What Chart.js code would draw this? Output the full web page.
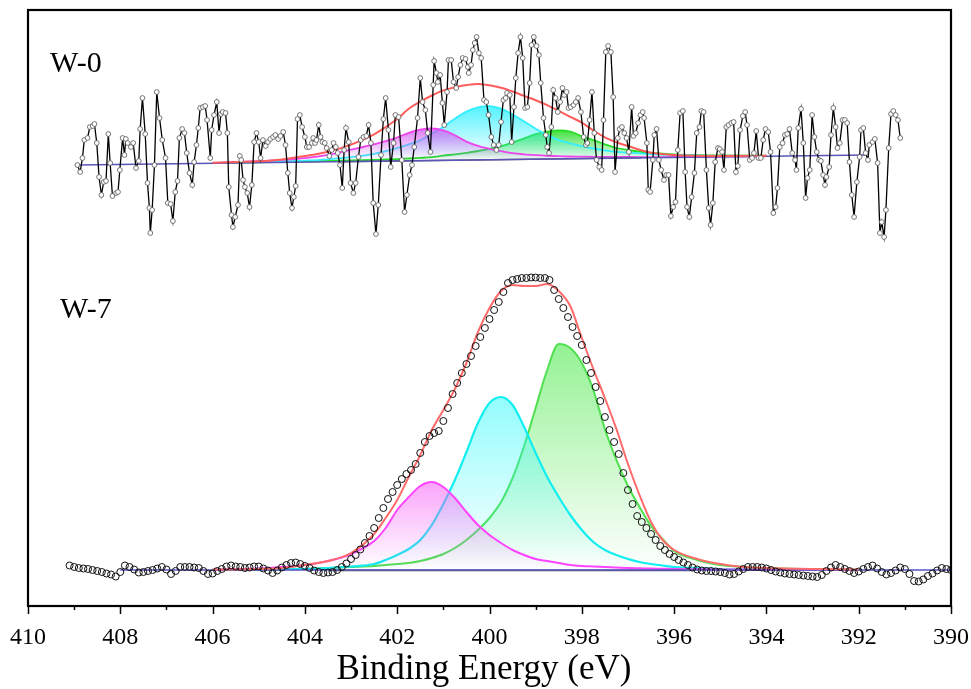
<!DOCTYPE html>
<html>
<head>
<meta charset="utf-8">
<script src="https://cdn.jsdelivr.net/npm/chart.js@4.4.0/dist/chart.umd.min.js"></script>
<style>
html,body{margin:0;padding:0;background:#fff;}
#wrap{width:971px;height:689px;}
</style>
</head>
<body>
<div id="wrap"><canvas id="c" width="971" height="689"></canvas></div>
<script>
// ---------- DATA (binding energy in eV, intensity in arbitrary units) ----------
const TICK_LABELS = [410, 408, 406, 404, 402, 400, 398, 396, 394, 392, 390];
const SAMPLE_LABELS = ["W-0", "W-7"];
const AXIS_TITLE = "Binding Energy (eV)";

// W-0 raw spectrum
const W0_E = [
408.93,408.87,408.82,408.78,408.71,408.66,408.60,408.56,408.51,408.46,
408.41,408.36,408.31,408.26,408.22,408.17,408.09,408.05,408.01,407.95,
407.91,407.88,407.84,407.77,407.72,407.66,407.60,407.57,407.52,407.46,
407.41,407.37,407.35,407.31,407.26,407.21,407.15,407.09,407.02,406.97,
406.91,406.86,406.81,406.76,406.72,406.66,406.61,406.56,406.50,406.44,
406.40,406.35,406.31,406.27,406.21,406.16,406.12,406.05,406.02,405.97,
405.91,405.86,405.82,405.78,405.72,405.68,405.65,405.59,405.56,405.51,
405.45,405.41,405.38,405.34,405.30,405.25,405.20,405.15,405.10,405.05,
405.00,404.96,404.91,404.85,404.80,404.75,404.69,404.64,404.58,404.53,
404.47,404.42,404.37,404.33,404.28,404.24,404.20,404.16,404.11,404.06,
404.00,403.96,403.91,403.85,403.82,403.78,403.75,403.70,403.66,403.62,
403.57,403.53,403.47,403.42,403.38,403.33,403.29,403.24,403.19,403.15,
403.11,403.05,403.01,402.95,402.90,402.84,402.79,402.73,402.67,402.62,
402.57,402.52,402.46,402.41,402.35,402.30,402.25,402.19,402.14,402.08,
402.04,401.97,401.90,401.84,401.79,401.73,401.68,401.63,401.56,401.50,
401.45,401.39,401.34,401.28,401.22,401.20,401.15,401.12,401.07,401.02,
400.98,400.92,400.89,400.83,400.78,400.72,400.68,400.63,400.58,400.52,
400.47,400.45,400.40,400.36,400.32,400.28,400.23,400.18,400.12,400.07,
400.02,399.96,399.91,399.85,399.80,399.75,399.70,399.65,399.62,399.56,
399.52,399.47,399.43,
399.38,399.33,399.28,399.23,399.18,399.13,399.09,399.04,398.98,398.93,
398.89,398.83,398.78,398.75,398.71,398.66,398.62,398.57,398.52,398.47,
398.42,398.38,398.33,398.29,398.24,398.18,398.13,398.08,398.02,397.96,
397.91,397.88,397.83,397.78,397.73,397.68,397.62,397.57,397.53,397.48,
397.43,397.37,397.32,397.28,397.22,397.18,397.13,397.08,397.03,396.98,
396.92,396.88,396.83,396.78,396.73,396.68,396.65,396.59,396.56,396.52,
396.46,396.43,396.38,396.33,396.28,396.22,396.17,396.12,396.07,396.02,
395.97,395.92,395.87,395.81,395.76,395.72,395.67,395.62,395.56,395.51,
395.45,395.41,395.36,395.30,395.25,395.21,395.16,395.11,395.05,395.01,
394.96,394.92,394.87,394.82,394.76,394.71,394.66,394.62,394.57,394.51,
394.46,394.42,394.36,394.31,394.27,394.22,394.17,394.12,394.07,394.02,
393.96,393.91,393.85,393.80,393.76,393.71,393.65,393.60,393.55,393.50,
393.44,393.38,393.35,393.31,393.25,393.20,393.15,393.11,393.06,393.01,
392.96,392.91,392.86,392.82,392.77,392.73,392.70,392.64,392.60,392.55,
392.50,392.46,392.41,392.35,392.30,392.25,392.20,392.15,392.10,392.04,
391.98,391.95,391.90,391.85,391.80,391.77,391.70,391.65,391.59,391.54,
391.50,391.45,391.41,391.35,391.30,391.25,391.20,391.15,391.10
];
const W0_I = [
441,434,448,466,468,479,480,482,463,429,
411,424,425,472,443,410,413,414,436,468,
451,467,463,459,463,438,445,477,508,472,
423,398,373,396,441,514,488,466,448,403,
402,385,414,425,468,477,473,453,433,421,
444,461,478,498,499,500,486,448,476,491,
504,473,492,494,493,473,419,391,379,389,
401,450,446,426,419,413,399,421,464,473,
464,448,466,460,464,467,469,471,467,470,
474,461,433,413,398,409,420,487,491,479,
469,459,459,463,468,463,466,481,469,464,
463,458,450,456,463,459,453,441,418,456,
478,464,423,413,423,449,466,469,470,481,
463,403,372,401,451,487,508,476,439,463,
491,489,446,394,411,431,441,459,488,528,
504,496,473,454,521,545,533,524,531,503,
481,514,546,546,524,518,529,541,548,547,
539,533,541,556,563,569,553,548,506,504,
491,469,461,456,461,484,506,508,513,511,
464,499,528,
553,569,548,498,499,523,561,569,560,551,
523,488,471,459,453,479,516,508,494,504,
518,511,514,498,499,501,504,508,494,469,
461,463,486,514,473,446,439,436,486,554,
560,554,509,434,468,477,479,473,468,454,
499,470,473,483,491,494,488,463,416,414,
446,471,477,446,436,426,431,431,390,399,
404,456,493,495,434,399,389,409,433,473,
479,495,494,436,398,381,403,444,458,457,
454,436,479,481,483,484,434,440,476,490,
494,481,446,448,453,475,448,448,466,477,
474,454,393,399,418,459,463,471,472,477,
453,446,436,478,497,463,408,428,436,491,
469,454,446,445,431,421,429,439,471,498,
479,458,463,486,486,483,444,411,389,424,
449,476,478,453,446,461,464,467,443,373,
384,369,396,458,492,495,491,486,468
];

// W-0 fitted components
const FIT0_E = [406,405,404.5,404,403.5,403,402.5,402.25,402,401.75,401.5,401.25,401,400.75,400.5,400.25,400,399.75,399.5,399.25,399,398.75,398.5,398.25,398,397.75,397.5,397.25,397,396.5,396,395.5,395,394];
const FIT0_ENV = [443.2,444.8,446.6,449.9,454.2,461.4,471.7,478.9,487.0,497.2,504.3,510.5,515.6,518.8,520.9,522.1,520.7,518.3,514.5,510.1,505.8,500.9,495.1,489.2,483.4,475.5,468.7,463.8,460.0,453.2,451.0,450.3,450.1,450.2];
const FIT0_MAG = [443.2,444.8,446.1,447.9,451.2,456.4,461.7,464.9,468.5,473.2,476.3,477.5,475.6,470.8,464.4,460.1,457.2,454.8,452.8,451.6,450.8,450.2,449.9,449.5,449.4,449.2,449.1,449.0,449.0,448.9,449.0,449.1,449.3,449.8];
const FIT0_CYAN = [443.0,444.0,444.6,445.4,446.7,448.8,452.2,454.9,458.0,461.7,465.8,472.5,479.1,487.3,494.4,498.6,499.9,497.3,491.5,484.6,477.3,470.9,466.1,462.7,459.9,457.5,455.7,454.2,453.3,451.9,451.0,450.5,450.2,450.2];
const FIT0_GREEN = [442.9,443.7,444.1,444.6,445.1,445.5,446.1,446.5,446.9,447.5,448.1,448.9,450.4,451.6,453.1,455.0,457.2,459.8,463.5,467.6,471.8,474.4,475.7,474.5,469.9,466.0,461.7,458.0,456.0,453.0,451.7,450.9,450.5,450.4];
const BG0_E = [408.93, 391.83];
const BG0_I = [441, 451];
const BASE0_E = [403.2, 396.7];
const BASE0_I = [444.3, 448.3];
const FILL0_LEVEL = 446;

// W-7 raw spectrum
const W7_E = [
409.1,409.0,408.9,408.8,408.7,408.6,408.5,408.4,408.3,408.2,
408.1,408.0,407.9,407.8,407.7,407.6,407.5,407.4,407.3,407.2,
407.1,407.0,406.9,406.8,406.7,406.6,406.5,406.4,406.3,406.2,
406.1,406.0,405.9,405.8,405.7,405.6,405.5,405.4,405.3,405.2,
405.1,405.0,404.9,404.8,404.7,404.6,404.5,404.4,404.3,404.2,
404.1,404.0,403.9,403.8,403.7,403.6,403.5,403.4,403.3,403.2,
403.1,403.0,402.9,402.8,402.7,402.6,402.5,402.4,402.3,402.2,
402.1,402.0,401.9,401.8,401.7,401.6,401.5,401.4,401.3,401.2,
401.1,401.0,400.9,400.8,400.7,400.6,400.5,400.4,400.3,400.2,
400.1,400.0,399.9,399.8,399.7,399.6,399.5,399.4,399.3,399.2,
399.1,399.0,398.9,398.8,398.7,398.6,398.5,398.4,398.3,398.2,
398.1,398.0,397.9,397.8,397.7,397.6,397.5,397.4,397.3,397.2,
397.1,397.0,396.9,396.8,396.7,396.6,396.5,396.4,396.3,396.2,
396.1,396.0,395.9,395.8,395.7,395.6,395.5,395.4,395.3,395.2,
395.1,395.0,394.9,394.8,394.7,394.6,394.5,394.4,394.3,394.2,
394.1,394.0,393.9,393.8,393.7,393.6,393.5,393.4,393.3,393.2,
393.1,393.0,392.9,392.8,392.7,392.6,392.5,392.4,392.3,392.2,
392.1,392.0,391.9,391.8,391.7,391.6,391.5,391.4,391.3,391.2,
391.1,391.0,390.9,390.8,390.7,390.6,390.5,390.4,390.3,390.2,
390.1,390.0
];
const W7_I = [
40.5,39,38,37.5,37,36,35,34,32.5,31.5,
29.5,34,40.5,39,36.5,33.5,34,35,36,37.5,
39,36.5,32,35,39,39,39,38.5,38,35,
32,32.5,35,37,39.5,40.5,39.5,39,38,38.5,
39.5,39.5,37.5,35.5,33,35.5,38.5,41,43,43.5,
42,40,38,35.5,34,33,33.5,34,36,39,
42.5,47,51,56.5,63,70,78,88,98,107,
114,121,127,132,136,142,153,164,170,173,
175,185,198,212,223,233,242,250,260,269,
278,287,296,304,314,323,326,327,328,328,
328.5,328.5,328,328,326,316,307,298,289,279,
270,261,246,233,219,205,189,176,164,152,
133,116,102,90,84,78,72,66,60,56,
52,49,46,43.5,41,38.5,36.5,35.5,35,35,
34.5,34,33,31.5,32,34.5,37,39,39,39,
38.5,37.5,36,34.5,33.5,32.5,32,31.5,31,30.5,
30,29.5,29,31,35,38.5,41,39,37,35,
33,34.5,37,39,40.5,37.5,34,31.5,33,35.5,
38.5,37,32,25,24.5,26.5,30,32.5,35.5,38,
37,36
];

// W-7 fitted components
const FIT7_E = [406,405,404.5,404,403.5,403,402.5,402.25,402,401.75,401.5,401.25,401,400.75,400.5,400.25,400,399.75,399.5,399.25,399,398.75,398.5,398.25,398,397.75,397.5,397.25,397,396.75,396.5,396.25,396,395.5,395,394.5,394,393,392];
const FIT7_ENV = [36.5,37,38,41,45,53,72,88,106,129,151,176,196,217,243,274,298,315,321,320,320,322,315,300,268,237,208,177,142,111,84,66,56,47,42,39,38,37,36.5];
const FIT7_MAG = [36.3,37.5,39,41,45,52,65,78,96,109,120,124,119,108,94,81,71,63,56,51,47,45,43,41,40,39.5,39,38.5,38,37.7,37.4,37.2,37,36.8,36.6,36.4,36.3,36.2,36.1];
const FIT7_CYAN = [36.3,36.5,36.8,37,38,39.5,42,46,51,57,66,81,102,126,154,183,203,209,201,179,153,129,109,91,76,64,56,51,47,44,42,40.5,39,38,37,36.7,36.5,36.2,36.1];
const FIT7_GREEN = [36.2,36.5,36.7,37,38,39,40,41,42,43,45,48,52,58,66,76,88,104,128,160,198,236,262,258,243,216,177,146,120,99,80,67,55,46,41,39,38,36.7,36.3];
const BG7_E = [408.0, 390.0];
const BG7_I = [36, 36];
const BASE7_E = [403.5, 395.6];
const BASE7_I = [35.6, 35.6];
const FILL7_LEVEL = 36;

// ---------- helpers ----------
const pts = (xs, ys) => xs.slice(0, Math.min(xs.length, ys.length)).map((x, i) => ({x: x, y: ys[i]}));
function gradFill(rgb, values, base, aTop, aBot) {
  const peak = Math.max.apply(null, values);
  return function(ctx) {
    const ch = ctx.chart;
    if (!ch.chartArea) return 'rgba(' + rgb + ',0.2)';
    const ys = ch.scales.y;
    const g = ch.ctx.createLinearGradient(0, ys.getPixelForValue(peak), 0, ys.getPixelForValue(base));
    g.addColorStop(0, 'rgba(' + rgb + ',' + aTop + ')');
    g.addColorStop(1, 'rgba(' + rgb + ',' + aBot + ')');
    return g;
  };
}
function fitLine(xs, ys, color, width, fillRgb, base, aTop) {
  const ds = {
    data: pts(xs, ys), borderColor: color, borderWidth: width,
    pointRadius: 0, cubicInterpolationMode: 'monotone', fill: false
  };
  if (fillRgb) {
    ds.fill = {value: base};
    ds.backgroundColor = gradFill(fillRgb, ys, base, aTop, 0.0);
  }
  return ds;
}
function straight(xs, ys, color, width) {
  return {data: pts(xs, ys), borderColor: color, borderWidth: width, pointRadius: 0, fill: false, tension: 0};
}

const SERIF = '"Liberation Serif", "Times New Roman", Times, serif';

const datasets = [
  // raw data (drawn on top)
  {data: pts(W0_E, W0_I), borderColor: '#000', borderWidth: 1.3, tension: 0, fill: false,
   pointRadius: 2.4, pointBackgroundColor: '#fff', pointBorderColor: '#555', pointBorderWidth: 0.8},
  {data: pts(W7_E, W7_I), showLine: false, fill: false,
   pointRadius: 3.5, pointBackgroundColor: 'rgba(255,255,255,0)', pointBorderColor: '#111', pointBorderWidth: 1},
  // envelopes
  fitLine(FIT0_E, FIT0_ENV, '#ff5c5c', 2, null),
  fitLine(FIT7_E, FIT7_ENV, '#ff6a6a', 2, null),
  // backgrounds and base lines
  straight(BG0_E, BG0_I, '#5b55b8', 1.6),
  straight(BG7_E, BG7_I, '#5b55c8', 1.6),
  straight(BASE0_E, BASE0_I, '#666', 1.6),
  straight(BASE7_E, BASE7_I, '#555', 1.8),
  // components W-0
  fitLine(FIT0_E, FIT0_MAG, '#ee44ee', 1.8, '210,80,240', FILL0_LEVEL, 0.75),
  fitLine(FIT0_E, FIT0_CYAN, '#33eeff', 1.8, '40,240,255', FILL0_LEVEL, 0.8),
  fitLine(FIT0_E, FIT0_GREEN, '#22dd22', 1.8, '30,220,30', FILL0_LEVEL, 0.85),
  // components W-7
  fitLine(FIT7_E, FIT7_MAG, '#ff44ff', 2, '245,90,245', FILL7_LEVEL, 0.55),
  fitLine(FIT7_E, FIT7_CYAN, '#11eef0', 2.2, '40,250,250', FILL7_LEVEL, 0.5),
  fitLine(FIT7_E, FIT7_GREEN, '#50e050', 2, '90,235,90', FILL7_LEVEL, 0.65)
];

const framePlugin = {
  id: 'frame',
  afterDraw(chart) {
    const {ctx, chartArea: a, scales} = chart;
    const xs = scales.x;
    ctx.save();
    // frame
    ctx.strokeStyle = '#000';
    ctx.lineWidth = 2.2;
    ctx.strokeRect(a.left, a.top, a.right - a.left, a.bottom - a.top);
    // major / minor tick marks
    ctx.lineWidth = 1.5;
    for (let v = TICK_LABELS[TICK_LABELS.length - 1]; v <= TICK_LABELS[0]; v += 1) {
      const px = Math.round(xs.getPixelForValue(v)) + 0.5;
      const len = (TICK_LABELS.indexOf(v) >= 0) ? 8 : 4;
      ctx.beginPath();
      ctx.moveTo(px, a.bottom);
      ctx.lineTo(px, a.bottom + len);
      ctx.stroke();
    }
    // sample labels
    ctx.fillStyle = '#000';
    ctx.font = '30px ' + SERIF;
    ctx.textAlign = 'left';
    ctx.textBaseline = 'alphabetic';
    ctx.fillText(SAMPLE_LABELS[0], 50, 72);
    ctx.fillText(SAMPLE_LABELS[1], 60, 318);
    // axis title
    ctx.font = '35px ' + SERIF;
    ctx.textAlign = 'center';
    ctx.textBaseline = 'alphabetic';
    ctx.fillText(AXIS_TITLE, 484, 679);
    ctx.restore();
  }
};

new Chart(document.getElementById('c'), {
  type: 'line',
  data: {datasets: datasets},
  options: {
    responsive: false,
    animation: false,
    devicePixelRatio: 1,
    layout: {padding: {left: 28, right: 20, top: 10, bottom: 0}},
    plugins: {legend: {display: false}, tooltip: {enabled: false}, title: {display: false}},
    scales: {
      x: {
        type: 'linear', reverse: true, min: 390, max: 410,
        afterFit: function(s) { s.height = 83; s.paddingLeft = 0; s.paddingRight = 0; },
        grid: {display: true, drawOnChartArea: false, drawTicks: false},
        border: {display: false},
        ticks: {
          stepSize: 2, autoSkip: false, maxRotation: 0, padding: 17,
          color: '#000', font: {family: SERIF, size: 24},
          callback: function(v) { return TICK_LABELS.indexOf(v) >= 0 ? String(v) : ''; }
        }
      },
      y: {type: 'linear', display: false, min: 0, max: 596}
    }
  },
  plugins: [framePlugin]
});
</script>
</body>
</html>
